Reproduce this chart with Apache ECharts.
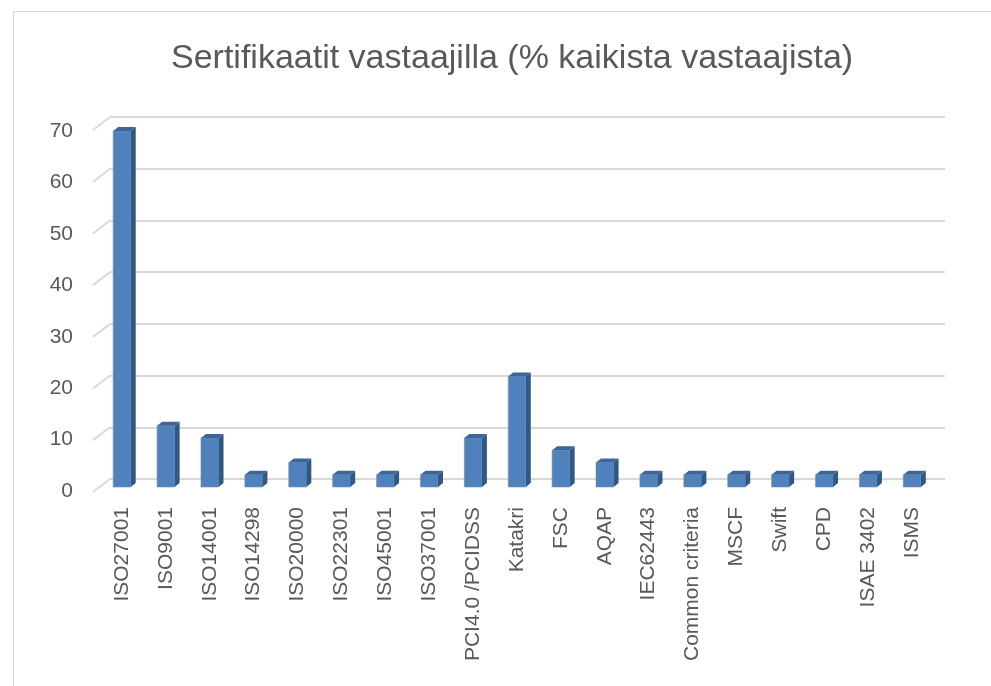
<!DOCTYPE html>
<html>
<head>
<meta charset="utf-8">
<script src="https://cdn.jsdelivr.net/npm/echarts@6/dist/echarts.min.js"></script>
<style>
  html, body { margin: 0; padding: 0; background: #fff; }
  #chart { width: 991px; height: 686px; }
</style>
</head>
<body>
<div id="chart"></div>
<script>
// kategoriat ja arvot (% vastaajista, n = 42)
var categories = ["ISO27001", "ISO9001", "ISO14001", "ISO14298", "ISO20000", "ISO22301",
  "ISO45001", "ISO37001", "PCI4.0 /PCIDSS", "Katakri", "FSC", "AQAP", "IEC62443",
  "Common criteria", "MSCF", "Swift", "CPD", "ISAE 3402", "ISMS"];
var values = [69.05, 11.9, 9.52, 2.38, 4.76, 2.38, 2.38, 2.38, 9.52, 21.43, 7.14, 4.76,
  2.38, 2.38, 2.38, 2.38, 2.38, 2.38, 2.38];
var yTicks = [0, 10, 20, 30, 40, 50, 60, 70];

var textColor = "#595959";
var gridColor = "#d9d9d9";
var font = "'Liberation Sans', Arial, sans-serif";

var chart = echarts.init(document.getElementById("chart"));

// 3D-tyylinen pylväs: etupinta, kylki ja kansi
function renderBar(params, api) {
  var v = api.value(1);
  var base = api.coord([api.value(0), 0]);
  var top = api.coord([api.value(0), v]);
  var w = api.size([1, 0])[0] * 0.4;
  var x0 = top[0] - w / 2, x1 = top[0] + w / 2;
  var dx = 5, dy = 4;
  return {
    type: "group",
    children: [
      { type: "rect", shape: { x: x0, y: top[1], width: w, height: base[1] - top[1] },
        style: { fill: "#4f81bd", stroke: "#6a93c6", lineWidth: 0.6 } },
      { type: "polygon", shape: { points: [[x1, top[1]], [x1 + dx, top[1] - dy], [x1 + dx, base[1] - dy], [x1, base[1]]] },
        style: { fill: "#34577f" } },
      { type: "polygon", shape: { points: [[x0, top[1]], [x0 + dx, top[1] - dy], [x1 + dx, top[1] - dy], [x1, top[1]]] },
        style: { fill: "#3c6598" } }
    ]
  };
}

// vinot apuviivat etureunasta takaseinään
function renderTick(params, api) {
  var p = api.coord([0, api.value(0)]);
  var x0 = p[0] - api.size([1, 0])[0] / 2;
  return {
    type: "line",
    shape: { x1: x0 - 17, y1: p[1] + 13, x2: x0, y2: p[1] },
    style: { stroke: gridColor, lineWidth: 2 }
  };
}

var option = {
  animation: false,
  title: {
    text: "Sertifikaatit vastaajilla (% kaikista vastaajista)",
    left: 166,
    top: 37,
    textStyle: { color: textColor, fontSize: 34, fontWeight: "normal", fontFamily: font }
  },
  graphic: [
    { type: "rect", shape: { x: 13.5, y: 11.5, width: 1000, height: 700 },
      style: { fill: "none", stroke: gridColor, lineWidth: 1 }, z: -1 }
  ],
  grid: [
    { left: 110, right: 46, top: 117, bottom: 207 },  // takaseinä
    { left: 93, right: 63, top: 131, bottom: 195 },   // etureuna
    { left: 100, right: 57, top: 126, bottom: 199 }   // pylväät
  ],
  xAxis: [
    { gridIndex: 0, type: "category", data: categories, show: false },
    { gridIndex: 1, type: "category", data: categories, show: false },
    { gridIndex: 2, type: "category", data: categories,
      axisLine: { show: false }, axisTick: { show: false },
      axisLabel: { rotate: 90, margin: 20, interval: 0, color: textColor, fontSize: 21, fontFamily: font } }
  ],
  yAxis: [
    { gridIndex: 0, type: "value", min: 0, max: 70, interval: 10,
      axisLabel: { show: false }, axisLine: { show: false }, axisTick: { show: false },
      splitLine: { lineStyle: { color: gridColor, width: 2 } } },
    { gridIndex: 1, type: "value", min: 0, max: 70, interval: 10,
      axisLine: { show: false }, axisTick: { show: false }, splitLine: { show: false },
      axisLabel: { margin: 20, color: textColor, fontSize: 21, fontFamily: font } },
    { gridIndex: 2, type: "value", min: 0, max: 70, interval: 10, show: false }
  ],
  series: [
    { type: "custom", xAxisIndex: 0, yAxisIndex: 0, renderItem: renderTick,
      data: yTicks.map(function (t) { return [t]; }), encode: { y: 0 } },
    { type: "custom", xAxisIndex: 2, yAxisIndex: 2, renderItem: renderBar,
      data: categories.map(function (c, i) { return [i, values[i]]; }), encode: { x: 0, y: 1 } }
  ]
};

chart.setOption(option);
</script>
</body>
</html>
